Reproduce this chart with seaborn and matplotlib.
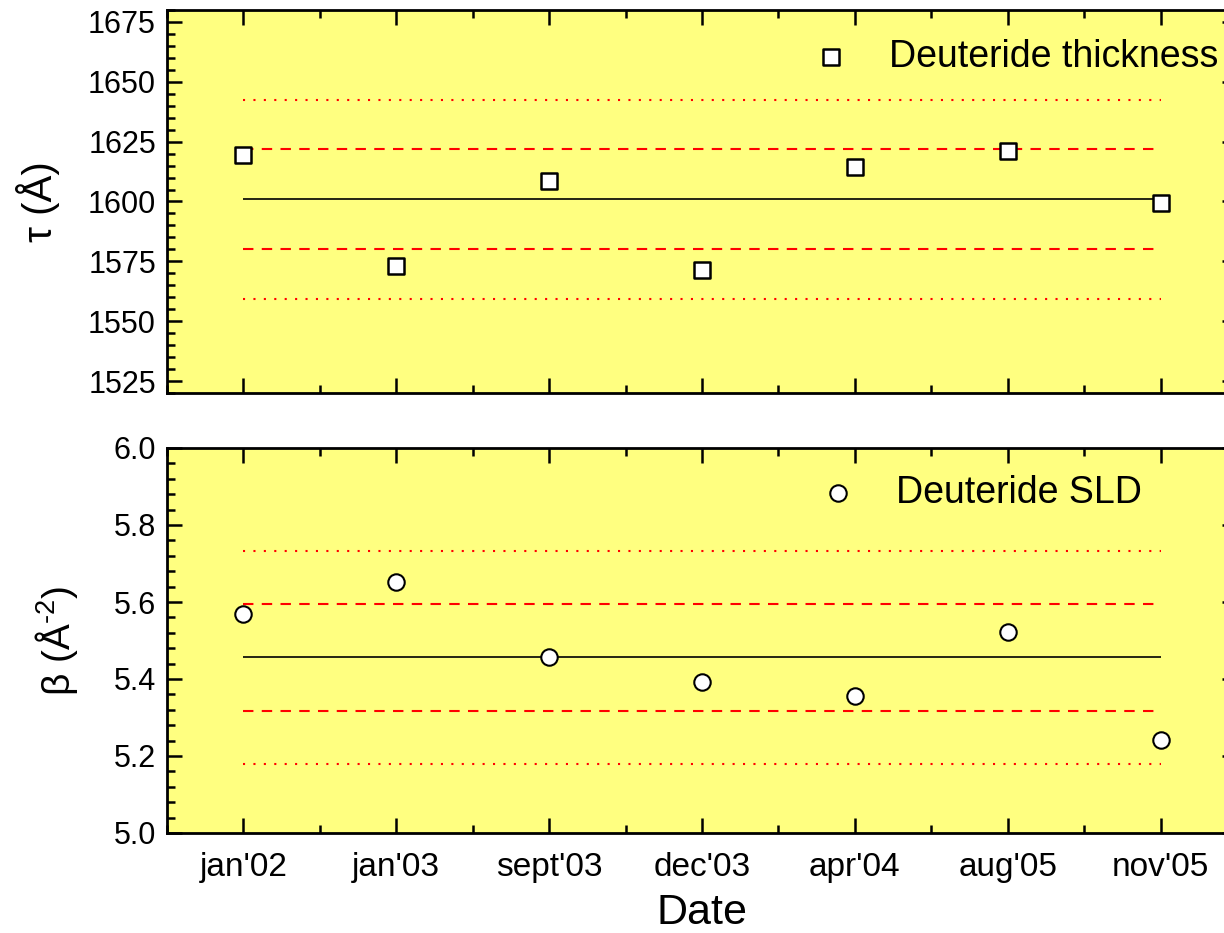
import numpy as np
import pandas as pd
import matplotlib
matplotlib.use("Agg")
import matplotlib.pyplot as plt
from matplotlib.ticker import MultipleLocator, FormatStrFormatter
import seaborn as sns

# Measurement dates
dates = ["jan'02", "jan'03", "sept'03", "dec'03", "apr'04", "aug'05", "nov'05"]

# Deuteride layer thickness (Å)
thickness = [1619.5, 1573.0, 1608.5, 1571.5, 1614.5, 1621.0, 1599.3]
thick_mean = 1601.0
thick_sigma = 20.8

# Deuteride scattering length density (Å^-2)
sld = [5.570, 5.651, 5.456, 5.391, 5.357, 5.523, 5.242]
sld_mean = 5.456
sld_sigma = 0.138

sns.set_style("ticks")
plt.rcParams["font.family"] = ["Liberation Sans", "DejaVu Sans"]
plt.rcParams["mathtext.fontset"] = "custom"
plt.rcParams["mathtext.rm"] = "Liberation Sans"
plt.rcParams["mathtext.it"] = "Liberation Sans"
for key in ("text.color", "axes.labelcolor", "xtick.color", "ytick.color", "axes.edgecolor"):
    plt.rcParams[key] = "black"

bg = "#FFFF80"
fig = plt.figure(figsize=(12.24, 9.33), dpi=100)
W, H = 1224, 933

def axes_px(left, right, top, bottom):
    return fig.add_axes([left / W, 1 - bottom / H, (right - left) / W, (bottom - top) / H])

ax1 = axes_px(167, 1237, 10, 393)
ax2 = axes_px(167, 1237, 448, 833)

df = pd.DataFrame({"pos": np.arange(len(dates)), "date": dates,
                   "thickness": thickness, "sld": sld})

def stat_lines(ax, mean, sigma):
    x0, x1 = 0, len(dates) - 1
    ax.hlines(mean, x0, x1, color="black", lw=1.2, zorder=2)
    ax.hlines([mean - sigma, mean + sigma], x0, x1, color="#FF0000", lw=1.5,
              linestyles=(0, (5, 4)), zorder=2)
    ax.hlines([mean - 2 * sigma, mean + 2 * sigma], x0, x1, color="#FF0000", lw=1.5,
              linestyles=(0, (1, 4)), zorder=2)

stat_lines(ax1, thick_mean, thick_sigma)
stat_lines(ax2, sld_mean, sld_sigma)

sns.scatterplot(data=df, x="pos", y="thickness", ax=ax1, marker="s", s=120,
                facecolor="white", edgecolor="black", linewidth=1.8, zorder=3,
                label="Deuteride thickness")
sns.scatterplot(data=df, x="pos", y="sld", ax=ax2, marker="o", s=140,
                facecolor="white", edgecolor="black", linewidth=1.5, zorder=3,
                label="Deuteride SLD")

for ax in (ax1, ax2):
    ax.set_facecolor(bg)
    ax.set_xlim(-0.5, 6.5)
    ax.set_xticks(np.arange(len(dates)))
    ax.xaxis.set_minor_locator(MultipleLocator(0.5))
    for sp in ax.spines.values():
        sp.set_linewidth(2.0)
        sp.set_visible(True)
    ax.tick_params(which="major", direction="in", length=11, width=1.8,
                   top=True, right=True)
    ax.tick_params(which="minor", direction="in", length=6, width=1.8,
                   top=True, right=True)
    ax.tick_params(axis="y", labelsize=22, pad=8)
    ax.tick_params(axis="x", labelsize=24, pad=14)

ax1.set_ylim(1520, 1680)
ax1.yaxis.set_major_locator(MultipleLocator(25))
ax1.yaxis.set_minor_locator(MultipleLocator(5))
ax1.set_xticklabels([])
ax1.set_xlabel("")
ax1.set_ylabel("τ (Å)", fontsize=29, labelpad=20)

ax2.set_ylim(5.0, 6.0)
ax2.yaxis.set_major_locator(MultipleLocator(0.2))
ax2.yaxis.set_minor_locator(MultipleLocator(0.04))
ax2.yaxis.set_major_formatter(FormatStrFormatter("%.1f"))
ax2.set_xticklabels(dates)
ax2.set_xlabel("Date", fontsize=31)
ax2.set_ylabel(r"β (Å$^{\text{-2}}$)", fontsize=28, labelpad=24)

ax2.xaxis.set_label_coords((702 - 167) / (1237 - 167), -0.155)

ax1.legend(loc="center left", bbox_to_anchor=((793 - 167) / 1070, (393 - 57) / 383),
           frameon=False, fontsize=27, handletextpad=0.55, handlelength=2.0,
           borderaxespad=0, borderpad=0)
ax2.legend(loc="center left", bbox_to_anchor=((800 - 167) / 1070, (833 - 493) / 385),
           frameon=False, fontsize=27, handletextpad=0.55, handlelength=2.0,
           borderaxespad=0, borderpad=0)

fig.savefig("out.png", dpi=100, facecolor="white")
